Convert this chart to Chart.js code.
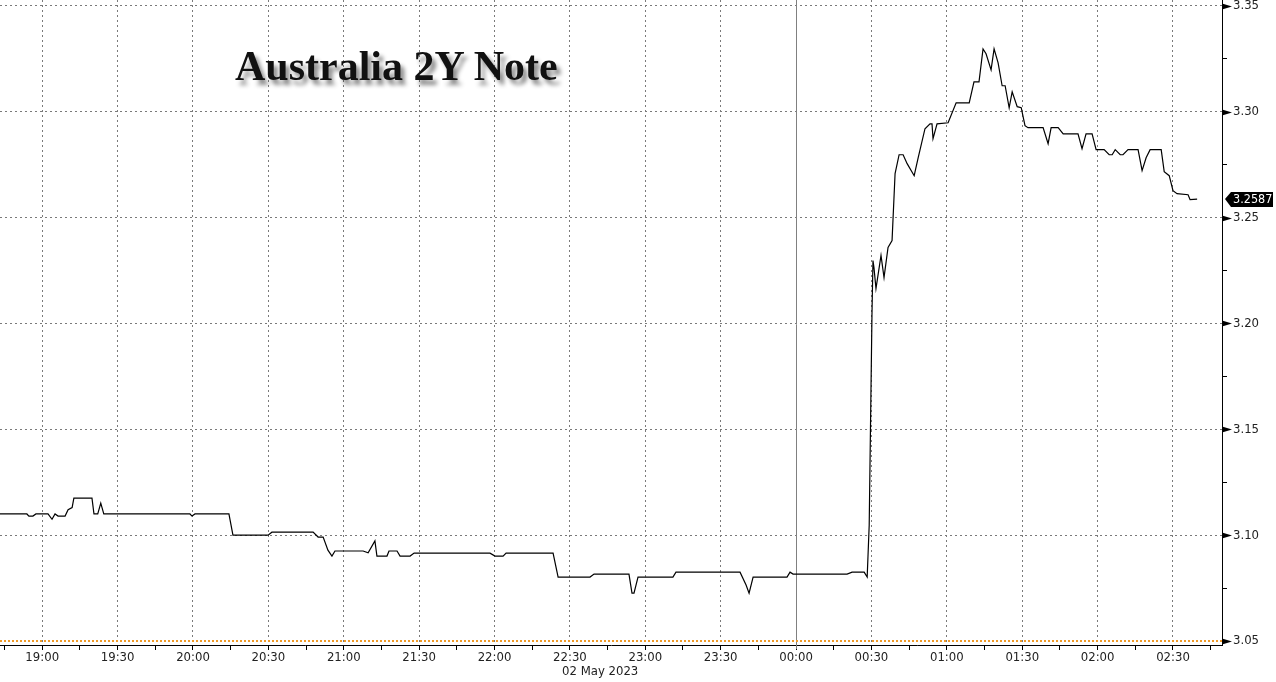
<!DOCTYPE html>
<html>
<head>
<meta charset="utf-8">
<script src="https://cdn.jsdelivr.net/npm/chart.js"></script>
<style>
  html, body { margin: 0; padding: 0; background: #fff; }
  #wrap { position: absolute; left: 0; top: 0; width: 1276px; height: 682px; }
  #title {
    position: absolute; left: 235px; top: 45px;
    font-family: "Liberation Serif", "DejaVu Serif", serif;
    font-weight: bold; font-size: 42px; line-height: 42px;
    color: #111; white-space: nowrap;
    text-shadow: 4px 5px 4px rgba(0, 0, 0, 0.45);
    pointer-events: none;
  }
</style>
</head>
<body>
<div id="wrap">
  <canvas id="chart"></canvas>
  <div id="title">Australia 2Y Note</div>
</div>
<script>
// minutes relative to 00:00 on 02 May 2023 (negative = evening of 01 May)
const minutes = [
  -316.8, -306.1, -305.3, -303.7, -302.5, -297.7, -296.1, -294.9, -293.7, -290.9,
  -289.7, -288.1, -287.4, -280.2, -279.4, -277.9, -276.7, -275.5, -241.2, -240.4,
  -239.2, -225.7, -224.1, -210.1, -208.6, -192.2, -190.2, -188.2, -186.3, -184.7,
  -183.5, -172.3, -170.3, -167.6, -166.8, -162.8, -162.0, -158.8, -157.6, -153.6,
  -152.0, -121.8, -119.8, -116.6, -115.4, -96.7, -94.7, -82.0, -80.4, -66.5,
  -65.3, -64.5, -62.9, -49.0, -47.8, -22.3, -19.9, -18.7, -17.1, -3.6,
  -2.4, -1.2, 20.3, 22.3, 27.1, 28.3, 29.1, 30.2, 30.6, 31.0,
  31.8, 33.8, 35.0, 36.6, 38.2, 39.4, 41.0, 42.6, 44.2, 47.0,
  48.6, 51.3, 53.3, 54.1, 54.5, 56.1, 60.5, 63.7, 68.9, 70.8,
  72.8, 74.4, 75.6, 77.6, 78.8, 80.4, 82.0, 83.2, 84.8, 86.0,
  88.0, 89.6, 91.1, 92.3, 98.3, 100.3, 101.5, 104.3, 106.3, 112.2,
  113.8, 115.4, 117.8, 119.4, 122.6, 124.6, 125.8, 127.0, 129.0, 130.1,
  132.1, 136.1, 137.7, 139.3, 140.9, 145.3, 146.5, 148.5, 150.0, 151.6,
  156.0, 156.8, 159.6
];
const yields = [
  3.110, 3.110, 3.109, 3.109, 3.110, 3.110, 3.1075, 3.110, 3.109, 3.109,
  3.112, 3.113, 3.1175, 3.1175, 3.110, 3.110, 3.1151, 3.110, 3.110, 3.109,
  3.110, 3.110, 3.100, 3.100, 3.1014, 3.1014, 3.0991, 3.0991, 3.0929, 3.0901,
  3.0925, 3.0925, 3.0917, 3.0973, 3.0901, 3.0901, 3.0925, 3.0925, 3.0901, 3.0901,
  3.0915, 3.0915, 3.0901, 3.0901, 3.0915, 3.0915, 3.0802, 3.0802, 3.0816, 3.0816,
  3.0726, 3.0726, 3.0802, 3.0802, 3.0825, 3.0825, 3.0764, 3.0726, 3.0802, 3.0802,
  3.0825, 3.0816, 3.0816, 3.0825, 3.0825, 3.0802, 3.1047, 3.2038, 3.2297, 3.2264,
  3.2165, 3.2321, 3.2217, 3.2359, 3.2392, 3.2708, 3.2797, 3.2797, 3.2755, 3.2698,
  3.2783, 3.2920, 3.2943, 3.2943, 3.2873, 3.2943, 3.2948, 3.3042, 3.3042, 3.3141,
  3.3141, 3.3297, 3.3274, 3.3198, 3.3297, 3.3231, 3.3123, 3.3123, 3.3019, 3.3094,
  3.3024, 3.3019, 3.2934, 3.2925, 3.2925, 3.2849, 3.2925, 3.2925, 3.2896, 3.2896,
  3.2826, 3.2896, 3.2896, 3.2821, 3.2821, 3.2797, 3.2797, 3.2821, 3.2797, 3.2797,
  3.2821, 3.2821, 3.2722, 3.2783, 3.2821, 3.2821, 3.2717, 3.2698, 3.2627, 3.2613,
  3.2608, 3.2585, 3.2587
];
const lastYield = 3.2587;

// x ticks every 15 min, labels on the half hour
const xTicks = [
  -315, -300, -285, -270, -255, -240, -225, -210, -195, -180, -165, -150, -135,
  -120, -105, -90, -75, -60, -45, -30, -15, 0, 15, 30, 45, 60, 75, 90, 105,
  120, 135, 150, 165
];
const xTickLabels = {
  '-300': '19:00', '-270': '19:30', '-240': '20:00', '-210': '20:30',
  '-180': '21:00', '-150': '21:30', '-120': '22:00', '-90': '22:30',
  '-60': '23:00', '-30': '23:30', '0': '00:00', '30': '00:30',
  '60': '01:00', '90': '01:30', '120': '02:00', '150': '02:30'
};
const yTicks = [3.05, 3.075, 3.10, 3.125, 3.15, 3.175, 3.20, 3.225, 3.25, 3.275, 3.30, 3.325, 3.35];
const dateLabel = '02 May 2023';

const X_MIN = -316.8, X_MAX = 169.5;
const Y_MIN = 3.0481, Y_MAX = 3.3528;

const fontFamily = '"DejaVu Sans Condensed", "DejaVu Sans", sans-serif';
const tickFont = { family: fontFamily, size: 13 };
const gridGray = '#7a7a7a';

function isMajorY(v) {
  return Math.round(v * 1000) % 50 === 0;
}

const extras = {
  id: 'extras',
  beforeDatasetsDraw(chart) {
    const { ctx, chartArea, scales: { x, y } } = chart;
    ctx.save();
    // day separator at 00:00
    const x0 = Math.round(x.getPixelForValue(0)) + 0.5;
    ctx.strokeStyle = '#808080';
    ctx.lineWidth = 1;
    ctx.beginPath();
    ctx.moveTo(x0, chartArea.top);
    ctx.lineTo(x0, chartArea.bottom + 4);
    ctx.stroke();
    // orange dotted line at 3.05
    const yb = Math.round(y.getPixelForValue(3.05));
    ctx.strokeStyle = '#f09a28';
    ctx.lineWidth = 2;
    ctx.setLineDash([2, 2]);
    ctx.beginPath();
    ctx.moveTo(chartArea.left, yb);
    ctx.lineTo(chartArea.right, yb);
    ctx.stroke();
    ctx.restore();
  },
  afterDraw(chart) {
    const { ctx, chartArea, scales: { x, y } } = chart;
    const ax = chartArea.right;
    ctx.save();
    // triangles on major y ticks
    ctx.fillStyle = '#000';
    yTicks.forEach(v => {
      if (!isMajorY(v)) return;
      const py = Math.round(y.getPixelForValue(v)) + 0.5;
      ctx.beginPath();
      ctx.moveTo(ax, py - 3);
      ctx.lineTo(ax + 10, py);
      ctx.lineTo(ax, py + 3);
      ctx.closePath();
      ctx.fill();
    });
    // last value tag
    const ty = Math.round(y.getPixelForValue(lastYield));
    ctx.beginPath();
    ctx.moveTo(ax + 3, ty);
    ctx.lineTo(ax + 9, ty - 7);
    ctx.lineTo(ax + 51, ty - 7);
    ctx.lineTo(ax + 51, ty + 8);
    ctx.lineTo(ax + 9, ty + 8);
    ctx.closePath();
    ctx.fill();
    ctx.fillStyle = '#fff';
    ctx.font = '12.5px ' + fontFamily;
    ctx.textBaseline = 'middle';
    ctx.textAlign = 'left';
    ctx.fillText(lastYield.toFixed(4), ax + 11, ty + 1);
    // date under the axis
    ctx.fillStyle = '#222';
    ctx.font = '13px ' + fontFamily;
    ctx.textAlign = 'right';
    ctx.fillText(dateLabel, x.getPixelForValue(-60) - 7, chartArea.bottom + 27);
    ctx.restore();
  }
};

new Chart(document.getElementById('chart'), {
  type: 'line',
  data: {
    datasets: [{
      label: 'Australia 2Y Note',
      data: minutes.map((m, i) => ({ x: m, y: yields[i] })),
      borderColor: '#000',
      borderWidth: 1.2,
      pointRadius: 0,
      tension: 0,
      fill: false
    }]
  },
  options: {
    responsive: true,
    maintainAspectRatio: false,
    animation: false,
    layout: { padding: 0 },
    plugins: {
      legend: { display: false },
      tooltip: { enabled: false }
    },
    scales: {
      x: {
        type: 'linear',
        min: X_MIN,
        max: X_MAX,
        afterBuildTicks: scale => { scale.ticks = xTicks.map(v => ({ value: v })); },
        afterFit: scale => { scale.height = 37; scale.paddingLeft = 0; scale.paddingRight = 0; },
        ticks: {
          autoSkip: false,
          maxRotation: 0,
          padding: 0,
          color: '#222',
          font: tickFont,
          callback: v => xTickLabels[String(v)] || ''
        },
        grid: {
          color: c => {
            const v = c.tick ? c.tick.value : 0;
            return (v % 30 !== 0 || v === 0) ? 'rgba(0,0,0,0)' : gridGray;
          },
          lineWidth: 1,
          drawTicks: true,
          tickLength: 5,
          tickColor: '#000'
        },
        border: { display: true, color: '#000', width: 1, dash: [2, 3] }
      },
      y: {
        position: 'right',
        min: Y_MIN,
        max: Y_MAX,
        afterBuildTicks: scale => { scale.ticks = yTicks.map(v => ({ value: v })); },
        afterFit: scale => { scale.width = 54; scale.paddingTop = 0; scale.paddingBottom = 0; },
        ticks: {
          padding: 6,
          color: '#222',
          font: tickFont,
          callback: v => isMajorY(v) ? v.toFixed(2) : ''
        },
        grid: {
          color: c => {
            const v = c.tick ? c.tick.value : 0;
            return (!isMajorY(v) || Math.abs(v - 3.05) < 1e-6) ? 'rgba(0,0,0,0)' : gridGray;
          },
          lineWidth: 1,
          drawTicks: true,
          tickLength: 5,
          tickColor: '#000'
        },
        border: { display: true, color: '#000', width: 1, dash: [2, 3] }
      }
    }
  },
  plugins: [extras]
});
</script>
</body>
</html>
